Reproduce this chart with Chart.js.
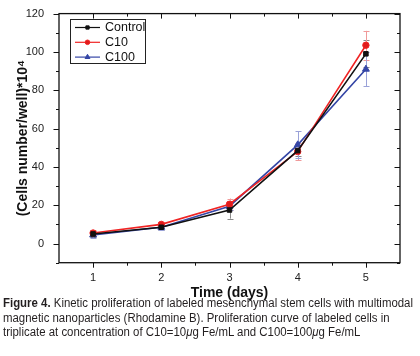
<!DOCTYPE html>
<html>
<head>
<meta charset="utf-8">
<script src="https://cdn.jsdelivr.net/npm/chart.js@4/dist/chart.umd.min.js"></script>
<style>
  html, body { margin: 0; padding: 0; background: #fff; }
  #wrap { position: relative; width: 420px; height: 356px; overflow: hidden; }
  canvas { position: absolute; left: 0; top: 0; }
  #caption { position: absolute; left: 3px; top: 296px;
    font-family: "Liberation Sans Narrow", "Arial Narrow", "Liberation Sans", Arial, sans-serif;
    font-size: 12.5px; line-height: 14.7px; color: #231f20; white-space: nowrap;
    transform-origin: 0 0; }
  #caption span { display: inline-block; }
</style>
</head>
<body>
<div id="wrap">
  <canvas id="c" width="420" height="300"></canvas>
  <div id="caption"><span id="l1"><b>Figure 4.</b> Kinetic proliferation of labeled mesenchymal stem cells with multimodal</span><br><span>magnetic nanoparticles (Rhodamine B). Proliferation curve of labeled cells in</span><br><span>triplicate at concentration of C10=10<i>μ</i>g Fe/mL and C100=100<i>μ</i>g Fe/mL</span></div>
</div>
<script>
// ---- data ----
const days = [1, 2, 3, 4, 5];
const controlValues = [5, 8.5, 17.5, 48.5, 99];
const controlErrors = [1.5, 1.5, 4.5, 3, 7];
const c10Values = [5.5, 10, 20.5, 48, 103.5];
const c10Errors = [1.5, 1.5, 3, 4.5, 7.5];
const c100Values = [4.5, 8.5, 19.5, 51.5, 91];
const c100Errors = [1.5, 1.5, 2, 7, 9];
const seriesNames = ['Control', 'C10', 'C100'];
const xTicks = [1, 2, 3, 4, 5];
const xMinorTicks = [1.5, 2.5, 3.5, 4.5];
const yTicks = [0, 20, 40, 60, 80, 100, 120];
const yMinorTicks = [-10, 10, 30, 50, 70, 90, 110];

const FONT = '"Liberation Sans", Arial, sans-serif';

// fit caption width (condensed look)
(function () {
  const cap = document.getElementById('caption');
  const w = document.getElementById('l1').getBoundingClientRect().width;
  if (w > 0) cap.style.transform = 'scaleX(' + (410 / w) + ')';
})();

function pts(vals) { return days.map((d, i) => ({ x: d, y: vals[i] })); }

const datasets = [
  { label: seriesNames[0], data: pts(controlValues), errors: controlErrors, errColor: '#8a8a8a',
    borderColor: '#111111', backgroundColor: '#111111', pointStyle: 'rect', pointRadius: 3.2 },
  { label: seriesNames[1], data: pts(c10Values), errors: c10Errors, errColor: '#f09a9a',
    borderColor: '#f02424', backgroundColor: '#e01c1c', pointStyle: 'circle', pointRadius: 3.2 },
  { label: seriesNames[2], data: pts(c100Values), errors: c100Errors, errColor: '#9aa2d8',
    borderColor: '#3546a6', backgroundColor: '#3546a6', pointStyle: 'triangle', pointRadius: 4 }
].map(d => Object.assign({ borderWidth: 1.6, pointBorderWidth: 1, tension: 0, pointHoverRadius: 4 }, d));

const errorBars = {
  id: 'errorBars',
  beforeDatasetsDraw(chart) {
    const ctx = chart.ctx, xs = chart.scales.x, ys = chart.scales.y;
    ctx.save();
    chart.data.datasets.forEach(ds => {
      ctx.strokeStyle = ds.errColor; ctx.lineWidth = 1;
      ds.data.forEach((p, i) => {
        const e = ds.errors[i];
        const x = Math.round(xs.getPixelForValue(p.x)) + 0.5;
        const y1 = ys.getPixelForValue(p.y - e), y2 = ys.getPixelForValue(p.y + e);
        ctx.beginPath();
        ctx.moveTo(x, y1); ctx.lineTo(x, y2);
        ctx.moveTo(x - 3, Math.round(y1) + 0.5); ctx.lineTo(x + 3, Math.round(y1) + 0.5);
        ctx.moveTo(x - 3, Math.round(y2) + 0.5); ctx.lineTo(x + 3, Math.round(y2) + 0.5);
        ctx.stroke();
      });
    });
    ctx.restore();
  }
};

const frameTicks = {
  id: 'frameTicks',
  afterDraw(chart) {
    const ctx = chart.ctx, a = chart.chartArea, xs = chart.scales.x, ys = chart.scales.y;
    ctx.save();
    ctx.strokeStyle = '#111'; ctx.lineWidth = 1.3;
    ctx.strokeRect(a.left, a.top, a.right - a.left, a.bottom - a.top);
    ctx.lineWidth = 1;
    ctx.beginPath();
    const yT = (v, len) => {
      const y = Math.round(ys.getPixelForValue(v)) + 0.5;
      ctx.moveTo(a.left, y); ctx.lineTo(a.left - len, y);
      ctx.moveTo(a.right, y); ctx.lineTo(a.right - len, y);
    };
    const xT = (v, len) => {
      const x = Math.round(xs.getPixelForValue(v)) + 0.5;
      ctx.moveTo(x, a.bottom); ctx.lineTo(x, a.bottom + len);
      ctx.moveTo(x, a.top); ctx.lineTo(x, a.top + len);
    };
    yTicks.forEach(v => yT(v, 5.5));
    yMinorTicks.forEach(v => yT(v, 3));
    xTicks.forEach(v => xT(v, 5));
    xMinorTicks.forEach(v => xT(v, 3));
    ctx.stroke();

    // legend box
    const lx = 70, ly = 19, lw = 75, lh = 44;
    ctx.strokeStyle = '#222'; ctx.lineWidth = 1;
    ctx.strokeRect(lx + 0.5, ly + 0.5, lw, lh);
    ctx.font = '12.5px ' + FONT; ctx.textBaseline = 'middle'; ctx.fillStyle = '#111';
    chart.data.datasets.forEach((ds, i) => {
      const y = ly + 8.5 + i * 14.8;
      ctx.strokeStyle = ds.borderColor; ctx.lineWidth = 1.2;
      ctx.beginPath(); ctx.moveTo(lx + 5, y); ctx.lineTo(lx + 30, y); ctx.stroke();
      ctx.fillStyle = ds.backgroundColor; ctx.strokeStyle = ds.borderColor; ctx.lineWidth = 1;
      Chart.helpers.drawPoint(ctx, { pointStyle: ds.pointStyle, radius: ds.pointStyle === 'triangle' ? 2.8 : 2.3, rotation: 0, borderWidth: 1 }, lx + 17.5, y);
      ctx.fillStyle = '#111';
      ctx.fillText(ds.label, lx + 35, y + 0.5);
    });
    ctx.restore();
  }
};

new Chart(document.getElementById('c'), {
  type: 'line',
  data: { datasets },
  plugins: [errorBars, frameTicks],
  options: {
    responsive: false, animation: false,
    layout: { padding: { top: 9, right: 20, left: 0, bottom: 0 } },
    plugins: { legend: { display: false }, tooltip: { enabled: false } },
    scales: {
      x: {
        type: 'linear', min: 0.5, max: 5.5,
        afterBuildTicks: s => { s.ticks = xTicks.map(v => ({ value: v })); },
        afterFit: s => { s.height = 300 - 262.7; },
        grid: { display: false }, border: { display: false },
        ticks: { color: '#222', font: { family: FONT, size: 11 }, padding: 1 },
        title: { display: true, text: 'Time (days)', color: '#111',
          font: { family: FONT, size: 14, weight: 'bold' }, padding: { top: 0, bottom: -1.5 } }
      },
      y: {
        type: 'linear', min: -10, max: 120,
        afterBuildTicks: s => { s.ticks = yTicks.map(v => ({ value: v })); },
        afterFit: s => { s.width = 59; },
        grid: { display: false }, border: { display: false },
        ticks: { color: '#222', font: { family: FONT, size: 11 }, padding: 7 },
        title: { display: true, text: '(Cells number/well)*10\u2074', color: '#111',
          font: { family: FONT, size: 14, weight: 'bold' }, padding: { top: 15, bottom: 0 } }
      }
    }
  }
});
</script>
</body>
</html>
